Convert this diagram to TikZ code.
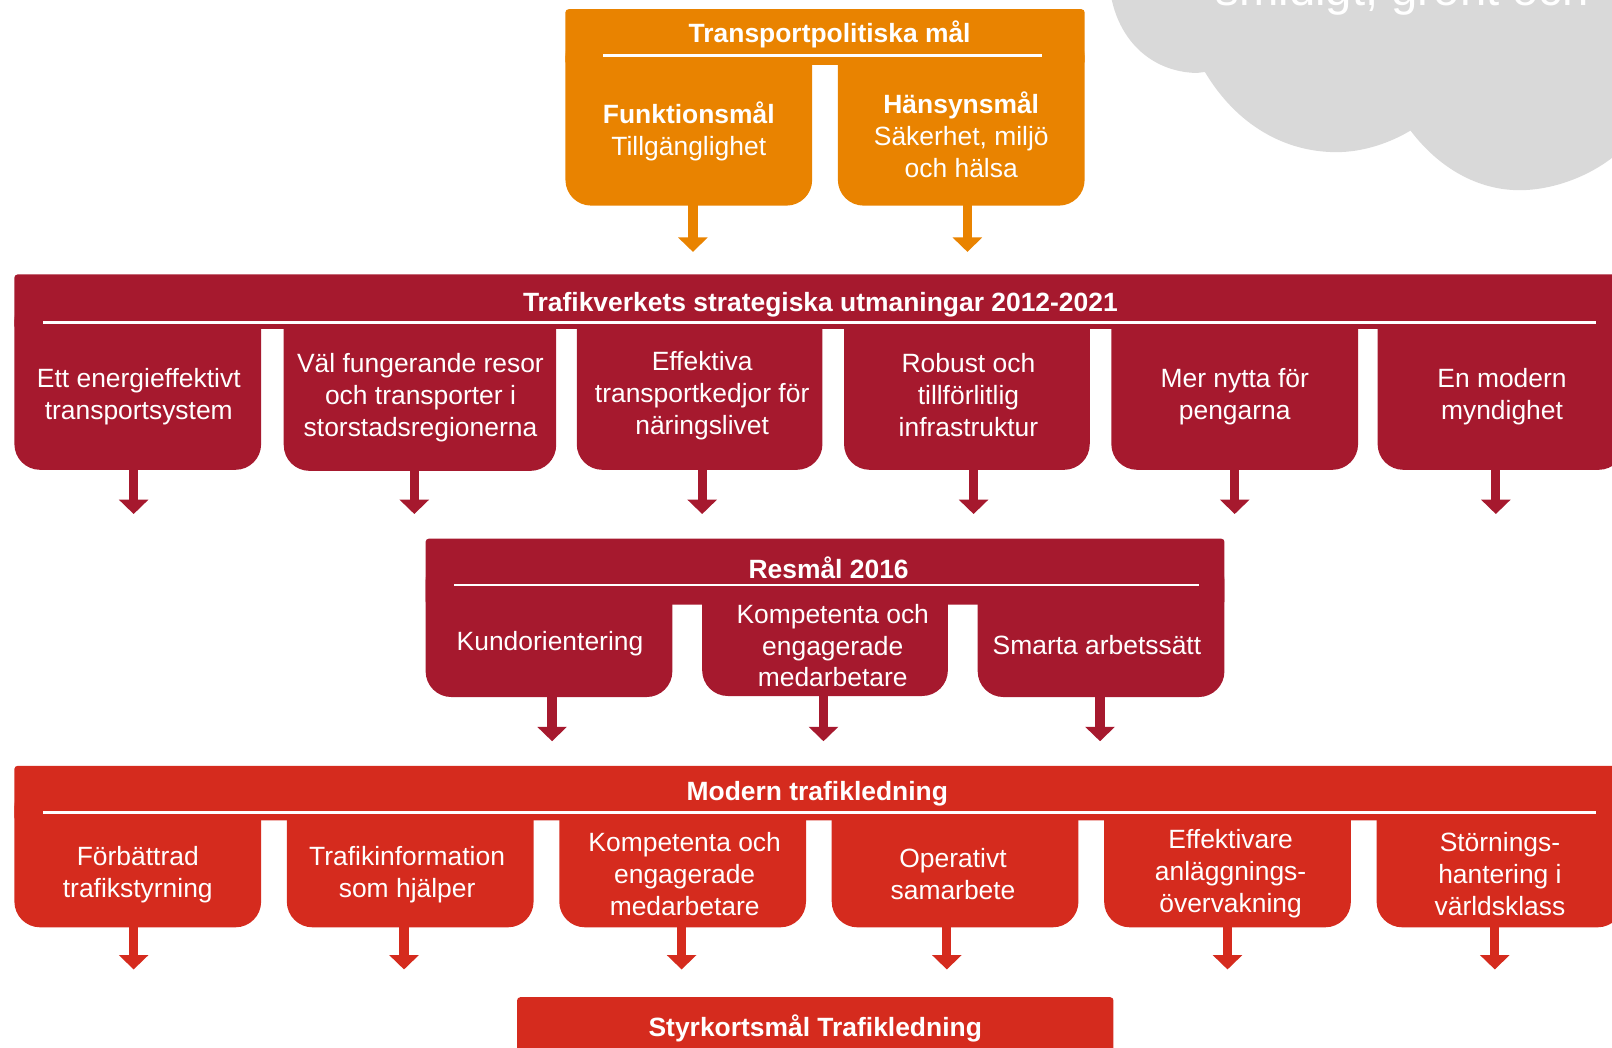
\documentclass[tikz,border=0pt]{standalone}
\usepackage{fontspec}
\setmainfont{Liberation Sans}
\usetikzlibrary{arrows.meta}
\definecolor{tvorange}{RGB}{233,131,0}
\definecolor{tvdark}{RGB}{166,25,46}
\definecolor{tvred}{RGB}{213,43,30}
\definecolor{tvgrey}{RGB}{217,217,217}
\begin{document}
\begin{tikzpicture}[x=1pt,y=-1pt,
 box/.style={rectangle, inner sep=0pt, outer sep=0pt, rounded corners=25pt, anchor=south west, minimum width=240pt},
 hdr/.style={rectangle, inner sep=0pt, outer sep=0pt, rounded corners=3pt, anchor=north west},
 rulew/.style={draw=white, line width=2.6pt},
 ttl/.style={text=white, font=\bfseries\fontsize{25.7}{31}\selectfont, inner sep=0pt},
 txt/.style={text=white, font=\fontsize{25.7}{31}\selectfont, align=center, inner sep=0pt},
 arr/.style={line width=9pt, -{Triangle[width=28pt,length=14pt]}},
]
\useasboundingbox (0,0) rectangle (1568,1019);
\begin{scope}
\clip (0,0) rectangle (1568,1019);
% cloud
\fill[tvgrey] (1081,-2) .. controls (1090,42) and (1122,70) .. (1164,71) -- (1172,70)
  .. controls (1203,122) and (1250,148) .. (1300,148)
  .. controls (1326,148) and (1352,139) .. (1372,127)
  .. controls (1400,164) and (1438,185) .. (1478,185)
  .. controls (1510,185) and (1545,172) .. (1570,152) -- (1570,-2) -- cycle;
\node[anchor=base, text=white, font=\fontsize{46}{50}\selectfont, inner sep=0pt] (cloudtxt) at (1364,5) {smidigt, grönt och};

% ---------- group 1: Transportpolitiska mål
\node[box, fill=tvorange, minimum height=170pt] (g1a) at (550,200) {};
\node[box, fill=tvorange, minimum height=170pt] (g1b) at (815,200) {};
\node[hdr, fill=tvorange, minimum width=505pt, minimum height=54pt] (g1h) at (550,9) {};
\draw[rulew] (587,54) -- (1014,54);
\node[ttl] (g1t) at (807,33) {Transportpolitiska mål};
\node[txt] (g1at) at (670,128) {{\bfseries Funktionsmål}\\Tillgänglighet};
\node[txt] (g1bt) at (935,131) {{\bfseries Hänsynsmål}\\Säkerhet, miljö\\och hälsa};
\coordinate (a1s) at (674,199); \coordinate (a1e) at (674,245);
\coordinate (a2s) at (941,199); \coordinate (a2e) at (941,245);
\draw[arr, draw=tvorange] (a1s) -- (a1e);
\draw[arr, draw=tvorange] (a2s) -- (a2e);

% ---------- group 2: Trafikverkets strategiska utmaningar
\node[box, fill=tvdark, minimum height=170pt] (g2a) at (14,457) {};
\node[box, fill=tvdark, minimum height=170pt, minimum width=265pt] (g2b) at (276,458) {};
\node[box, fill=tvdark, minimum height=170pt, minimum width=239pt] (g2c) at (561,457) {};
\node[box, fill=tvdark, minimum height=170pt, minimum width=239pt] (g2d) at (821,457) {};
\node[box, fill=tvdark, minimum height=170pt] (g2e) at (1081,457) {};
\node[box, fill=tvdark, minimum height=170pt] (g2f) at (1340,457) {};
\node[hdr, fill=tvdark, minimum width=1566pt, minimum height=53pt] (g2h) at (14,267) {};
\draw[rulew] (42,314) -- (1552,314);
\node[ttl] (g2t) at (798,296) {Trafikverkets strategiska utmaningar 2012-2021};
\node[txt] (g2at) at (135,386) {Ett energieffektivt\\transportsystem};
\node[txt] (g2bt) at (409,387) {Väl fungerande resor\\och transporter i\\storstadsregionerna};
\node[txt] (g2ct) at (683,385) {Effektiva\\transportkedjor för\\näringslivet};
\node[txt] (g2dt) at (942,384) {Robust och\\tillförlitlig\\infrastruktur};
\node[txt] (g2et) at (1201,386) {Mer nytta för\\pengarna};
\node[txt] (g2ft) at (1461,386) {En modern\\myndighet};
\foreach \n/\x in {1/130,2/403,3/683,4/947,5/1201,6/1455}{
  \coordinate (b\n s) at (\x,456); \coordinate (b\n e) at (\x,500);
  \draw[arr, draw=tvdark] (b\n s) -- (b\n e);
}

% ---------- group 3: Resmål 2016
\node[box, fill=tvdark, minimum height=138pt] (g3a) at (414,678) {};
\node[box, fill=tvdark, minimum height=137pt, minimum width=239pt] (g3b) at (683,677) {};
\node[box, fill=tvdark, minimum height=138pt] (g3c) at (951,678) {};
\node[hdr, fill=tvdark, minimum width=777pt, minimum height=64pt] (g3h) at (414,524) {};
\draw[rulew] (442,569) -- (1166,569);
\node[ttl] (g3t) at (806,552) {Resmål 2016};
\node[txt] (g3at) at (535,626) {Kundorientering};
\node[txt] (g3bt) at (810,628) {Kompetenta och\\engagerade\\medarbetare};
\node[txt] (g3ct) at (1067,627) {Smarta arbetssätt};
\foreach \n/\x in {1/537,2/801,3/1070}{
  \coordinate (c\n s) at (\x,676); \coordinate (c\n e) at (\x,721);
  \draw[arr, draw=tvdark] (c\n s) -- (c\n e);
}

% ---------- group 4: Modern trafikledning
\node[box, fill=tvred, minimum height=142pt] (g4a) at (14,902) {};
\node[box, fill=tvred, minimum height=142pt] (g4b) at (279,902) {};
\node[box, fill=tvred, minimum height=142pt] (g4c) at (544,902) {};
\node[box, fill=tvred, minimum height=142pt] (g4d) at (809,902) {};
\node[box, fill=tvred, minimum height=142pt] (g4e) at (1074,902) {};
\node[box, fill=tvred, minimum height=142pt] (g4f) at (1339,902) {};
\node[hdr, fill=tvred, minimum width=1566pt, minimum height=53pt] (g4h) at (14,745) {};
\draw[rulew] (42,790) -- (1552,790);
\node[ttl] (g4t) at (795,772) {Modern trafikledning};
\node[txt] (g4at) at (134,851) {Förbättrad\\trafikstyrning};
\node[txt] (g4bt) at (396,851) {Trafikinformation\\som hjälper};
\node[txt] (g4ct) at (666,850) {Kompetenta och\\engagerade\\medarbetare};
\node[txt] (g4dt) at (927,850) {Operativt\\samarbete};
\node[txt] (g4et) at (1197,850) {Effektivare\\anläggnings-\\övervakning};
\node[txt] (g4ft) at (1459,850) {Störnings-\\hantering i\\världsklass};
\foreach \n/\x in {1/130,2/393,3/663,4/921,5/1194,6/1454}{
  \coordinate (d\n s) at (\x,901); \coordinate (d\n e) at (\x,943);
  \draw[arr, draw=tvred] (d\n s) -- (d\n e);
}

% ---------- final box
\node[hdr, fill=tvred, minimum width=580pt, minimum height=70pt] (g5) at (503,970) {};
\node[ttl] (g5t) at (793,1000) {Styrkortsmål Trafikledning};
\end{scope}
\end{tikzpicture}
\end{document}
